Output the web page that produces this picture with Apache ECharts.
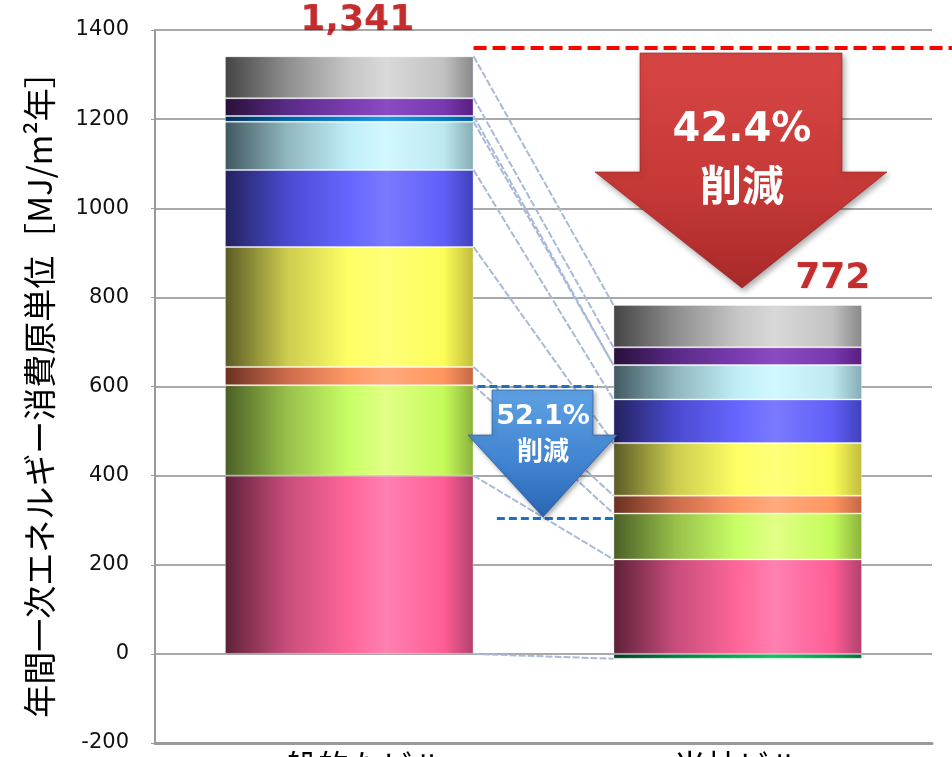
<!DOCTYPE html>
<html>
<head>
<meta charset="utf-8">
<script src="https://cdn.jsdelivr.net/npm/echarts@6/dist/echarts.min.js"></script>
<style>
  html, body { margin: 0; padding: 0; background: #ffffff; }
  #chart { width: 952px; height: 757px; }
</style>
</head>
<body>
<div id="chart"></div>
<script>
// Buildings being compared
const categories = ['一般的なビル', '当社ビル'];

// Annual primary energy per floor area [MJ/m²年], stacked from the bottom up
const heatSource   = [400, 212];
const heatTransfer = [203, 103];
const hotWater     = [41, 40];
const lighting     = [269, 118];
const outlets      = [173, 98];
const ventilation  = [108, 77];
const elevators    = [13, 0];
const others       = [40, 40];
const commonArea   = [94, 95];
const solarPower   = [0, -11];

// Value axis ticks
const yTicks = [-200, 0, 200, 400, 600, 800, 1000, 1200, 1400];

// Reduction callouts
const reductionTotal = '42.4%';
const reductionPart = '52.1%';
const reductionWord = '削減';
// Levels of the dashed guide lines
const redGuideLevel = 1360;
const blueGuideLevels = [600, 305];

const segments = [
  { name: '熱源', values: heatSource,   stops: ['#5e2038', '#c84d7c', '#ff6699', '#ff80b2', '#ff5e95', '#b0406e'] },
  { name: '熱搬送', values: heatTransfer, stops: ['#4a5e26', '#98c04a', '#c8ff66', '#e2ff86', '#c4fb5a', '#8cb23e'] },
  { name: '給湯', values: hotWater,     stops: ['#6a3020', '#cc6c4c', '#ff9966', '#ffaa7c', '#ff965f', '#c46644'] },
  { name: '照明', values: lighting,     stops: ['#5a5a26', '#cccc4e', '#ffff66', '#ffff7a', '#fcfc58', '#c2bc3c'] },
  { name: 'コンセント', values: outlets, stops: ['#22225e', '#4a4ad0', '#6666ff', '#7a7aff', '#5f5ff8', '#4040bc'] },
  { name: '換気', values: ventilation,  stops: ['#405860', '#90b6be', '#c0eef8', '#d2f8ff', '#bee8f0', '#86acb4'] },
  { name: '昇降機', values: elevators,   stops: ['#003058', '#0060a8', '#0a80d0', '#1c94e2', '#0078c8', '#005898'] },
  { name: 'その他', values: others,      stops: ['#281038', '#5a2a88', '#7a3cb0', '#8a4ac2', '#7838b0', '#581e80'] },
  { name: '共用部', values: commonArea,  stops: ['#444444', '#8e8e8e', '#c6c6c6', '#d9d9d9', '#c2c2c2', '#888888'] },
  { name: '太陽光発電', values: solarPower, stops: ['#004020', '#008040', '#00b050', '#14c464', '#00a048', '#007030'] }
];

const barFraction = 0.64;

function sideGradient(c) {
  return {
    type: 'linear', x: 0, y: 0, x2: 1, y2: 0,
    colorStops: [
      { offset: 0, color: c[0] },
      { offset: 0.25, color: c[1] },
      { offset: 0.5, color: c[2] },
      { offset: 0.65, color: c[3] },
      { offset: 0.88, color: c[4] },
      { offset: 1, color: c[5] }
    ]
  };
}

// Cumulative segment tops for each bar (positive part), and the negative total
const nCat = categories.length;
const tops = [];
for (let i = 0; i < nCat; i++) {
  let acc = 0;
  const list = [];
  segments.forEach(s => {
    if (s.values[i] > 0) acc += s.values[i];
    if (s.values.some(v => v > 0)) list.push(acc);
  });
  tops.push(list);
}
const negTotals = categories.map((_, i) =>
  segments.reduce((a, s) => a + (s.values[i] < 0 ? s.values[i] : 0), 0));
const totals = categories.map((_, i) =>
  segments.reduce((a, s) => a + s.values[i], 0));

// Series lines joining matching segment tops across the gap between the bars
const half = barFraction / 2;
const connectorData = [];
for (let k = 0; k < tops[0].length; k++) {
  connectorData.push({ coords: [[0 + half, tops[0][k]], [1 - half, tops[1][k]]] });
}
connectorData.push({ coords: [[0 + half, negTotals[0]], [1 - half, negTotals[1]]] });

const barSeries = segments.map(s => ({
  name: s.name,
  type: 'bar',
  stack: 'total',
  barWidth: (barFraction * 100) + '%',
  data: s.values,
  itemStyle: {
    color: sideGradient(s.stops),
    borderColor: 'rgba(255,255,255,0.35)',
    borderWidth: 1
  },
  emphasis: { disabled: true },
  z: 3
}));

const chart = echarts.init(document.getElementById('chart'), null, { renderer: 'canvas' });

const labelFont = '"DejaVu Sans", Verdana, sans-serif';
const cjkFont = '"Noto Sans CJK JP", sans-serif';

chart.setOption({
  animation: false,
  backgroundColor: '#ffffff',
  grid: { left: 155, right: 20, top: 30, bottom: 14, containLabel: false, outerBoundsMode: 'none' },
  xAxis: [
    {
      type: 'category',
      data: categories,
      axisLine: { show: true, onZero: false, lineStyle: { color: '#9a9a9a', width: 3 } },
      axisTick: { show: false },
      axisLabel: { fontSize: 32, fontFamily: cjkFont, color: '#000', margin: 7 },
      splitLine: { show: false }
    },
    {
      type: 'value',
      min: -0.5,
      max: 1.5,
      show: false,
      axisLine: { show: false },
      splitLine: { show: false }
    }
  ],
  yAxis: {
    type: 'value',
    min: yTicks[0],
    max: yTicks[yTicks.length - 1],
    interval: yTicks[1] - yTicks[0],
    name: '年間一次エネルギー消費原単位［MJ/m²年］',
    nameLocation: 'middle',
    nameGap: 99,
    nameTextStyle: { fontSize: 33, fontFamily: cjkFont, color: '#000' },
    axisLine: { show: true, onZero: false, lineStyle: { color: '#9a9a9a', width: 2 } },
    axisTick: { show: true, length: 4, lineStyle: { color: '#9a9a9a' } },
    axisLabel: {
      fontSize: 21, fontFamily: labelFont, color: '#111', margin: 26,
      formatter: v => String(v)
    },
    splitLine: { show: true, lineStyle: { color: '#8c8c8c', width: 1.5 } }
  },
  series: [
    ...barSeries,
    {
      name: 'connectors',
      type: 'lines',
      coordinateSystem: 'cartesian2d',
      xAxisIndex: 1,
      yAxisIndex: 0,
      polyline: false,
      silent: true,
      z: 2,
      lineStyle: { color: '#a9bad8', width: 2, type: [7, 2], opacity: 1 },
      data: connectorData
    },
    {
      name: 'red guide',
      type: 'lines',
      coordinateSystem: 'cartesian2d',
      xAxisIndex: 1,
      yAxisIndex: 0,
      polyline: false,
      silent: true,
      clip: false,
      z: 4,
      lineStyle: { color: '#ff0000', width: 4, type: [13, 6], opacity: 1 },
      data: [{ coords: [[0 + half, redGuideLevel], [1.56, redGuideLevel]] }]
    },
    {
      name: 'blue guides',
      type: 'lines',
      coordinateSystem: 'cartesian2d',
      xAxisIndex: 1,
      yAxisIndex: 0,
      polyline: false,
      silent: true,
      z: 4,
      lineStyle: { color: '#1f70c0', width: 3, type: [8, 4], opacity: 1 },
      data: [
        { coords: [[0.33, blueGuideLevels[0]], [0.64, blueGuideLevels[0]]] },
        { coords: [[0.38, blueGuideLevels[1]], [0.69, blueGuideLevels[1]]] }
      ]
    },
    {
      name: 'totals',
      type: 'scatter',
      xAxisIndex: 0,
      yAxisIndex: 0,
      symbolSize: 0,
      silent: true,
      z: 6,
      data: totals.map((t, i) => ({
        value: [i, t],
        label: { offset: i === 0 ? [8, -36] : [95, -31] }
      })),
      label: {
        show: true,
        position: 'inside',
        formatter: p => p.value[1].toLocaleString('en-US'),
        fontFamily: labelFont,
        fontWeight: 'bold',
        fontSize: 36,
        color: '#bb0000',
        textShadowColor: 'rgba(0,0,0,0.15)',
        textShadowBlur: 1,
        textShadowOffsetX: 1,
        textShadowOffsetY: 1
      }
    }
  ],
  graphic: [
    {
      type: 'polygon',
      z: 100,
      shape: { points: [[640, 53], [842, 53], [842, 172], [887, 172], [742, 288], [595, 172], [640, 172]] },
      style: {
        fill: {
          type: 'linear', x: 0, y: 0, x2: 0, y2: 1,
          colorStops: [
            { offset: 0, color: '#d84644' },
            { offset: 0.6, color: '#c43836' },
            { offset: 1, color: '#a82a2a' }
          ]
        },
        stroke: 'rgba(150,30,30,0.6)',
        lineWidth: 1,
        shadowBlur: 6,
        shadowOffsetX: 2,
        shadowOffsetY: 3,
        shadowColor: 'rgba(0,0,0,0.35)'
      }
    },
    {
      type: 'text', z: 101, x: 742, y: 131,
      style: {
        text: reductionTotal, fill: '#ffffff',
        font: 'bold 40px ' + labelFont,
        textAlign: 'center', textVerticalAlign: 'middle',
        align: 'center', verticalAlign: 'middle'
      }
    },
    {
      type: 'text', z: 101, x: 742, y: 185,
      style: {
        text: reductionWord, fill: '#ffffff',
        font: 'bold 42px ' + cjkFont,
        textAlign: 'center', textVerticalAlign: 'middle',
        align: 'center', verticalAlign: 'middle'
      }
    },
    {
      type: 'polygon',
      z: 100,
      shape: { points: [[492, 390], [593, 390], [593, 435], [617, 435], [543, 517], [468, 435], [492, 435]] },
      style: {
        fill: {
          type: 'linear', x: 0, y: 0, x2: 0, y2: 1,
          colorStops: [
            { offset: 0, color: '#5ea2e4' },
            { offset: 0.6, color: '#3f82cf' },
            { offset: 1, color: '#2a66b4' }
          ]
        },
        stroke: 'rgba(30,80,150,0.6)',
        lineWidth: 1,
        shadowBlur: 5,
        shadowOffsetX: 2,
        shadowOffsetY: 2,
        shadowColor: 'rgba(0,0,0,0.35)'
      }
    },
    {
      type: 'text', z: 101, x: 543, y: 417,
      style: {
        text: reductionPart, fill: '#ffffff',
        font: 'bold 27px ' + labelFont,
        textAlign: 'center', textVerticalAlign: 'middle',
        align: 'center', verticalAlign: 'middle'
      }
    },
    {
      type: 'text', z: 101, x: 543, y: 450,
      style: {
        text: reductionWord, fill: '#ffffff',
        font: 'bold 26px ' + cjkFont,
        textAlign: 'center', textVerticalAlign: 'middle',
        align: 'center', verticalAlign: 'middle'
      }
    }
  ]
});
</script>
</body>
</html>
